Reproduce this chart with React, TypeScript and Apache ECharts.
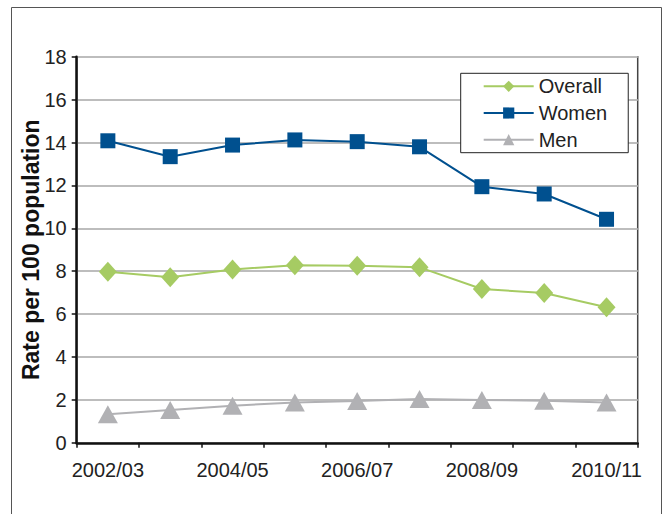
import React, { useEffect, useRef } from "react";
import * as echarts from "echarts";

const categories = ["2002/03", "2003/04", "2004/05", "2005/06", "2006/07", "2007/08", "2008/09", "2009/10", "2010/11"];
const overall = [7.98, 7.72, 8.08, 8.28, 8.25, 8.18, 7.17, 6.98, 6.32];
const women = [14.08, 13.34, 13.88, 14.12, 14.04, 13.8, 11.94, 11.6, 10.42];
const men = [1.33, 1.53, 1.73, 1.88, 1.95, 2.04, 2.0, 1.96, 1.88];
const yTicks = { min: 0, max: 18, interval: 2 };

export default function App() {
  const ref = useRef<HTMLDivElement>(null);
  useEffect(() => {
    if (!ref.current) return;
    const chart = echarts.init(ref.current, null, { renderer: "svg" });
    const font = "'Liberation Sans', Arial, sans-serif";
    chart.setOption({
      animation: false,
      backgroundColor: "#fff",
      textStyle: { fontFamily: font },
      graphic: [
        {
          type: "rect",
          shape: { x: 11.5, y: 7.5, width: 650, height: 530 },
          style: { fill: "none", stroke: "#555", lineWidth: 1 },
          silent: true,
          z: 0,
        },
      ],
      grid: {
        left: 76.7,
        right: 27.3,
        top: 56.7,
        bottom: 71.2,
        containLabel: false,
        show: true,
        borderColor: "#444",
        borderWidth: 1.5,
        backgroundColor: "transparent",
      },
      legend: {
        orient: "vertical",
        left: 460.7,
        top: 73.3,
        width: 163,
        padding: [3, 21, 3, 22],
        backgroundColor: "#fff",
        borderColor: "#222",
        borderWidth: 1,
        itemWidth: 50,
        itemHeight: 14,
        itemGap: 6.7,
        textStyle: { fontSize: 20, color: "#222", fontFamily: font, lineHeight: 20 },
        data: ["Overall", "Women", "Men"],
      },
      xAxis: {
        type: "category",
        data: categories,
        boundaryGap: true,
        axisLine: { lineStyle: { color: "#111", width: 2.5 } },
        axisTick: { show: true, interval: 0, length: 5, lineStyle: { color: "#111", width: 1.5 } },
        axisLabel: { interval: 1, fontSize: 20, color: "#222", margin: 17, fontFamily: font },
        splitLine: { show: false },
      },
      yAxis: {
        type: "value",
        min: yTicks.min,
        max: yTicks.max,
        interval: yTicks.interval,
        name: "Rate per 100 population",
        nameLocation: "middle",
        nameGap: 34,
        nameMoveOverlap: false,
        nameTextStyle: { fontSize: 23, fontWeight: "bold", color: "#111", fontFamily: font },
        axisLine: { show: true, lineStyle: { color: "#111", width: 2.5 } },
        axisTick: { show: true, length: 5, lineStyle: { color: "#111", width: 1.5 } },
        axisLabel: { fontSize: 20, color: "#222", margin: 10, fontFamily: font },
        splitLine: { show: true, lineStyle: { color: "#BDBDBD", width: 2 } },
      },
      series: [
        {
          name: "Overall",
          type: "line",
          data: overall,
          symbol: "diamond",
          symbolSize: [18, 20],
          itemStyle: { color: "#A6CB63" },
          lineStyle: { color: "#A6CB63", width: 2 },
          z: 3,
        },
        {
          name: "Women",
          type: "line",
          data: women,
          symbol: "rect",
          symbolSize: 15,
          itemStyle: { color: "#00508F" },
          lineStyle: { color: "#00508F", width: 2 },
          z: 4,
        },
        {
          name: "Men",
          type: "line",
          data: men,
          symbol: "triangle",
          symbolSize: [20, 18],
          itemStyle: { color: "#B1B1B4" },
          lineStyle: { color: "#B1B1B4", width: 2 },
          z: 2,
        },
      ],
    });
    return () => chart.dispose();
  }, []);
  return (
    <div
      ref={ref}
      style={{ position: "fixed", left: 0, top: 0, width: 665, height: 514 }}
    />
  );
}
